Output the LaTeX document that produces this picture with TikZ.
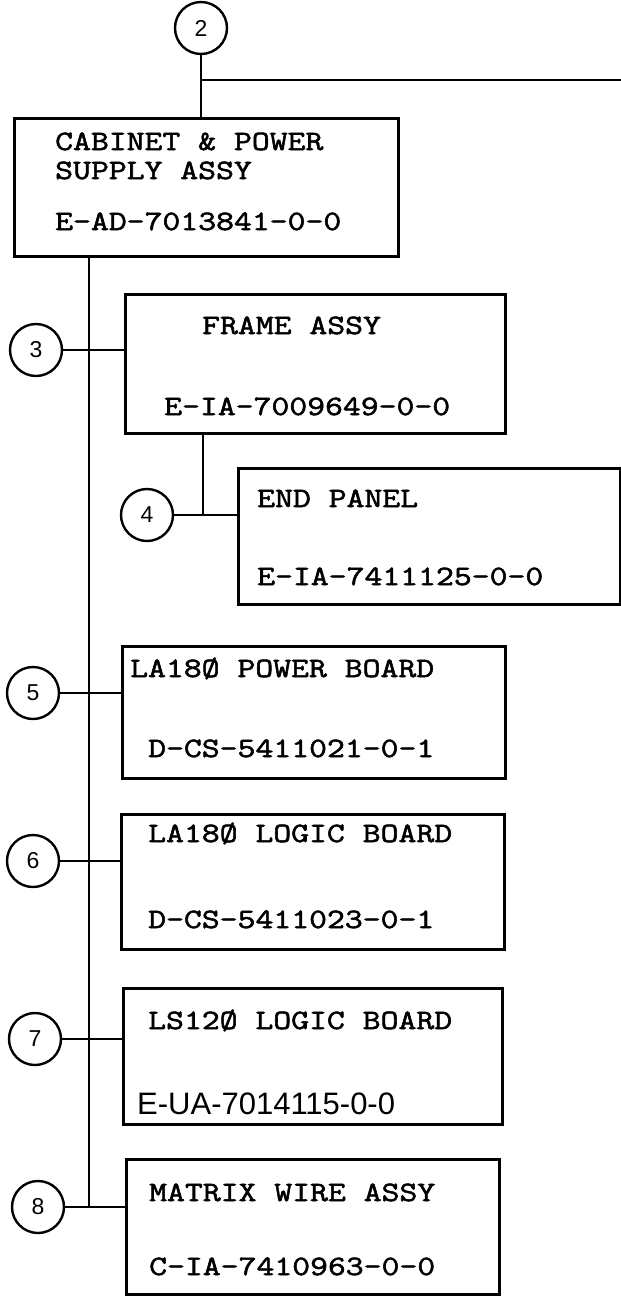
\documentclass[tikz,border=0pt]{standalone}
\usepackage{fontspec}
\newfontfamily\partfont[FakeStretch=1.24, FakeBold=2]{Latin Modern Mono}
\newfontfamily\tagfont{Liberation Sans}
\usetikzlibrary{positioning}

\begin{document}
\begin{tikzpicture}[x=1pt, y=-1pt,
  unit/.style={draw, line width=2.8pt, rectangle, anchor=north west, inner sep=0pt},
  callout/.style={draw, circle, line width=2.4pt, minimum size=52pt, inner sep=0pt,
    font=\tagfont\fontsize{23}{23}\selectfont},
  txt/.style={anchor=base west, inner sep=0pt, font=\partfont\fontsize{28}{28}\selectfont},
  wire/.style={line width=2.6pt}]
\useasboundingbox (0,0) rectangle (621,1299);

% top level assembly
\node[callout] (c2) at (201,28) {2};
\node[unit, minimum width=384pt, minimum height=138pt] (b1) at (13,117) {};
\node[txt] (b1a) at (55,150) {CABINET \& POWER};
\node[txt] (b1b) at (55,179) {SUPPLY ASSY};
\node[txt] (b1n) at (55,230) {E-AD-7013841-0-0};

\coordinate (tr) at (621,80);
\draw[wire] (c2) -- (c2 |- b1.north);
\draw[wire] (c2 |- tr) -- (tr);

% frame and end panel
\node[callout] (c3) at (36,350) {3};
\node[unit, minimum width=380pt, minimum height=139pt] (b2) at (124,293) {};
\node[txt] (b2a) at (202,334) {FRAME ASSY};
\node[txt] (b2n) at (164,415) {E-IA-7009649-0-0};

\node[callout] (c4) at (147,515) {4};
\node[unit, minimum width=382pt, minimum height=136pt] (b3) at (237,467) {};
\node[txt] (b3a) at (257,507) {END PANEL};
\node[txt] (b3n) at (257,585) {E-IA-7411125-0-0};

\coordinate (j4) at (203,515);
\draw[wire] (b2.south -| j4) -- (j4);
\draw[wire] (c4) -- (c4 -| b3.west);

% boards
\node[callout] (c5) at (33,693) {5};
\node[unit, minimum width=383pt, minimum height=132pt] (b4) at (121,645) {};
\node[txt] (b4a) at (130,677) {LA18Ø POWER BOARD};
\node[txt] (b4n) at (148,757) {D-CS-5411021-0-1};

\node[callout] (c6) at (33,861) {6};
\node[unit, minimum width=383pt, minimum height=135pt] (b5) at (120,813) {};
\node[txt] (b5a) at (148,842) {LA18Ø LOGIC BOARD};
\node[txt] (b5n) at (148,928) {D-CS-5411023-0-1};

\node[callout] (c7) at (35,1039) {7};
\node[unit, minimum width=379pt, minimum height=136pt] (b6) at (122,987) {};
\node[txt] (b6a) at (148,1029) {LS12Ø LOGIC BOARD};
\node[anchor=base west, inner sep=0pt, font=\tagfont\fontsize{31}{31}\selectfont] (b6n) at (137,1114) {E-UA-7014115-0-0};

\node[callout] (c8) at (38,1207) {8};
\node[unit, minimum width=373pt, minimum height=135pt] (b7) at (125,1158) {};
\node[txt] (b7a) at (149,1201) {MATRIX WIRE ASSY};
\node[txt] (b7n) at (149,1275) {C-IA-7410963-0-0};

% spine with branches
\coordinate (s8) at (89,1207);
\draw[wire] (b1.south -| s8) -- (s8);
\draw[wire] (c3) -- (c3 -| b2.west);
\draw[wire] (c5) -- (c5 -| b4.west);
\draw[wire] (c6) -- (c6 -| b5.west);
\draw[wire] (c7) -- (c7 -| b6.west);
\draw[wire] (c8) -- (c8 -| b7.west);
\end{tikzpicture}
\end{document}
